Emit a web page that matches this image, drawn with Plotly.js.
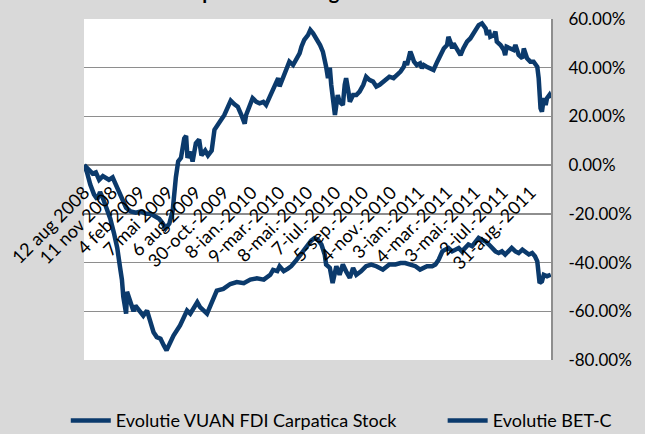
<!DOCTYPE html>
<html><head><meta charset="utf-8">
<script src="https://cdn.plot.ly/plotly-3.0.1.min.js"></script>
<style>html,body{margin:0;padding:0;background:#d9d9d9;} #chart{width:645px;height:434px;}</style>
</head><body><div id="chart"></div>
<script>
// category tick labels (every 60th observation)
const xTickLabels = ["12 aug 2008","11 nov 2008","4 feb 2009","7 mai 2009","6 aug 2009","30-oct.-2009","8-ian.-2010","9-mar.-2010","8-mai.-2010","7-iul.-2010","5-sep.-2010","4-nov.-2010","3-ian.-2011","4-mar.-2011","3-mai.-2011","2-iul.-2011","31-aug.-2011"];
const xTickIdx = [0,60,120,180,240,300,360,420,480,540,600,660,720,780,840,900,960];
const nObs = 1004;

const yTickVals = [-80,-60,-40,-20,0,20,40,60];
const yTickLabels = ["-80.00%","-60.00%","-40.00%","-20.00%","0.00%","20.00%","40.00%","60.00%"];

const seriesNames = ["Evolutie VUAN FDI Carpatica Stock","Evolutie BET-C"];

// Evolutie VUAN FDI Carpatica Stock (%)
const fundIdx = [0,11,18,25,32,40,47,53,61,68,75,82,90,100,111,122,133,143,154,161,169,175,183,190,197,202,208,215,219,222,228,233,240,247,252,260,266,274,280,286,294,301,308,315,323,330,337,345,348,356,362,370,377,385,391,399,406,413,417,420,428,434,441,449,456,463,467,473,481,486,492,499,507,513,517,520,524,528,531,534,539,542,545,549,556,560,563,568,571,578,585,592,600,606,613,621,628,635,642,650,656,665,672,680,687,690,694,698,701,704,709,715,722,726,730,736,744,751,759,765,773,780,783,787,791,794,802,809,815,823,830,837,841,848,855,863,866,870,873,881,884,887,895,902,905,908,916,923,927,934,942,945,952,959,966,974,977,979,981,984,988,992,995,1000,1003];
const fundVal = [0,-2.5,-3.5,-3,-6,-4.5,-5.5,-6,-5,-8,-11,-14.5,-17.5,-19,-19.5,-19,-20,-20,-21,-22,-24,-26,-24,-19,-5,1.5,3,11,12,3,5.5,1.5,9,10.5,4,6,4,6,14.5,16.5,18.5,20.5,24,26.5,25,24,21,17,20.6,25.4,27.5,26,25.4,26,24.7,28.1,30.9,33.6,35.7,32.3,36.3,38.4,42.5,41.1,43.9,45.9,48.6,51.4,53.4,55.5,54.1,52,49.3,46.6,43.9,40.4,35.7,40,33,28.1,20.6,24.7,28.8,26,24.7,33,35.7,30.2,26,28.8,28.8,30.2,33,36.3,35,34.3,32.3,33,34.3,35.7,36.3,35.7,37,38.4,40.4,42.5,41.1,44.5,46.6,45.2,42.5,41.1,41.8,39.8,41.1,40.4,39.8,39.1,42.5,45.2,47.9,49.3,52.7,50.7,47.9,50,47.3,45.2,47.9,50.7,52,54.1,56.1,57.5,58.2,56.1,53.4,55.5,52.7,53.4,54.8,50.7,49.3,47.3,45.2,48.6,47.9,47.3,49.3,45.2,43.9,47.9,43.9,42.5,42.5,40.4,35.7,30.2,23.4,21.9,27.5,24.7,27.5,28.8,27.5];

// Evolutie BET-C (%)
const betcIdx = [0,6,13,21,28,34,41,47,56,64,71,77,81,84,90,92,98,106,110,121,127,135,142,149,156,164,171,177,192,206,221,228,243,249,264,271,278,285,299,314,328,343,357,371,386,400,406,415,420,429,438,445,456,467,478,488,495,502,510,517,520,528,534,539,542,549,556,563,571,578,585,595,606,617,628,642,650,656,669,680,690,701,712,722,730,737,748,755,762,770,776,783,791,798,805,812,820,826,834,841,848,855,863,870,876,884,891,898,905,913,919,927,934,942,948,956,963,969,974,977,979,984,988,995,1003];
const betcVal = [0,-3,-8,-12,-14,-11,-14,-17,-22,-28,-34,-42,-47,-54,-61,-52,-56,-60,-57.7,-60.4,-61.8,-59.7,-64.5,-68.6,-70.6,-71.3,-74,-76,-70,-65.8,-59.7,-61,-56.3,-58.3,-61,-57.7,-53.6,-51.5,-50.8,-48.8,-48,-48.5,-47,-46.5,-47,-45,-43,-43.5,-41.5,-43.5,-42.5,-41.5,-39,-36,-33,-31,-30,-30.6,-32.6,-36.7,-40.8,-42.2,-48.4,-43.6,-41.5,-45,-40.8,-43.6,-46.3,-42.2,-45,-43.6,-41.5,-40.8,-41.5,-42.9,-41.5,-40.8,-40.8,-40.2,-40.2,-40.8,-41.5,-42.9,-42.2,-41.5,-41.5,-40.8,-38.8,-35.4,-34.7,-34,-35.4,-34.7,-34,-35.4,-34,-32.6,-33.3,-31.3,-29.9,-30.6,-31.3,-32.6,-34,-35.4,-36.1,-35.4,-36.7,-35.4,-34,-35.4,-36.1,-34.7,-35.4,-36.7,-36.1,-37.4,-39.5,-45,-48.4,-47.7,-45,-45.6,-45];

const titleText = "Evolutie comparativa 12 august 2008 - 2011";
const lineColor = '#0b3a6c';

const traces = [
  {x: fundIdx, y: fundVal, name: seriesNames[0], type:'scatter', mode:'lines', line:{color:lineColor, width:4.5}, legend:'legend'},
  {x: betcIdx, y: betcVal, name: seriesNames[1], type:'scatter', mode:'lines', line:{color:lineColor, width:4.5}, legend:'legend2'}
];

const legendCommon = {orientation:'h', xanchor:'left', y:-0.178, yanchor:'middle', font:{size:18, color:'#000'},
                      bgcolor:'rgba(0,0,0,0)', itemwidth:40};

const layout = {
  width: 645, height: 434,
  paper_bgcolor: '#d9d9d9', plot_bgcolor: '#ffffff',
  margin: {l:84, r:94, t:19, b:74, pad:0, autoexpand:false},
  font: {family: 'Lato, "Open Sans", sans-serif', color: '#000'},
  showlegend: true,
  xaxis: {range:[-0.5, nObs-0.5], tickmode:'array', tickvals: xTickIdx, ticktext: xTickLabels, tickangle:-45,
          anchor:'free', position:0.535, showgrid:false, zeroline:false, showline:false, ticks:'',
          tickfont:{size:18, color:'#000'}, fixedrange:true},
  yaxis: {range:[-80,60], tickmode:'array', tickvals: yTickVals, ticktext: yTickLabels, side:'right',
          showgrid:true, gridcolor:'#8e8e8e', gridwidth:1.5, zeroline:false, showline:true, linecolor:'#8e8e8e', linewidth:2,
          ticks:'outside', ticklen:12, tickcolor:'rgba(0,0,0,0)', tickfont:{size:17, color:'#000'}},
  legend: Object.assign({}, legendCommon, {x:-0.039}),
  legend2: Object.assign({}, legendCommon, {x:0.768}),
  annotations: [{text:'<b>'+titleText+'</b>', xref:'paper', yref:'paper', x:0.43, y:1, yanchor:'bottom', yshift:14, showarrow:false, font:{size:20, color:'#000'}}]
};

Plotly.newPlot('chart', traces, layout, {displayModeBar:false, staticPlot:true});
</script></body></html>
